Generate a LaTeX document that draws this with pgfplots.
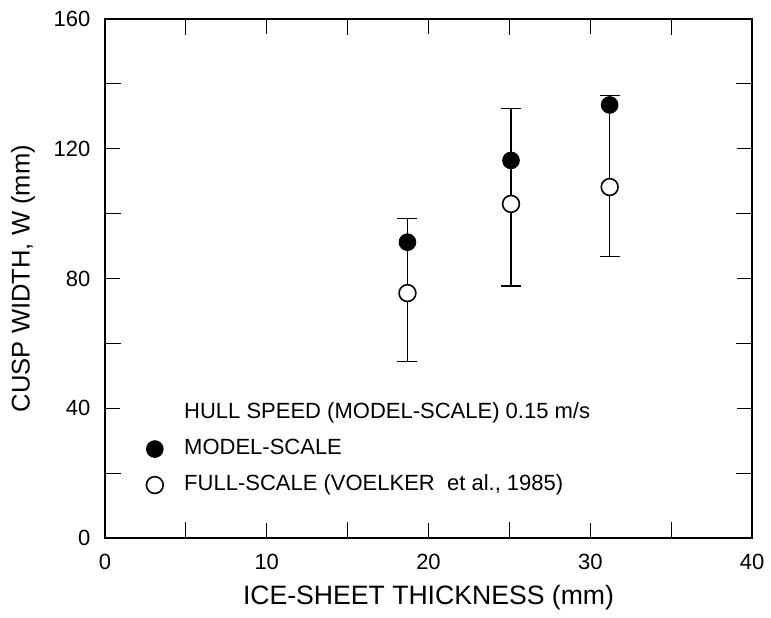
\documentclass[border=0pt]{standalone}
\usepackage{fontspec}
\setmainfont{Liberation Sans}
\usepackage{pgfplots}
\usepackage{pgfplotstable}
\pgfplotsset{compat=1.18}
\pgfplotstableread{
x y ep em
18.7 75.5 23.1 21.2
25.1 103.0 29.5 25.3
31.2 108.2 28.1 21.5
}\errtable
\pgfplotstableread{
x y
18.7 91.2
25.1 116.4
31.2 133.5
}\modeltable
\pgfplotstableread{
x y
18.7 75.5
25.1 103.0
31.2 108.2
}\fulltable
\begin{document}
\begin{tikzpicture}
\path[use as bounding box] (-52.5pt,-39.5pt) rectangle (333pt,269pt);
\begin{axis}[
  at={(0,0)}, anchor=south west,
  scale only axis, width=323.5pt, height=259.5pt,
  xmin=0, xmax=40, ymin=0, ymax=160,
  xtick={0,10,20,30,40}, minor xtick={5,15,25,35},
  ytick={0,40,80,120,160}, minor ytick={20,60,100,140},
  tick align=inside, major tick length=7.5pt, minor tick length=8pt,
  every tick/.style={black, line width=0.6pt},
  axis line style={line width=0.9pt},
  /pgf/number format/assume math mode=true,
  ticklabel style={font=\fontsize{11}{13}\selectfont},
  xticklabel style={yshift=-4.6pt},
  yticklabel style={xshift=-3.8pt},
  xlabel={ICE-SHEET THICKNESS (mm)},
  ylabel={CUSP WIDTH, W (mm)},
  xlabel style={font=\fontsize{13.3}{15}\selectfont,
    at={(axis description cs:0.5,-0.1156)}, anchor=center},
  ylabel style={font=\fontsize{12.8}{15}\selectfont,
    at={(axis description cs:-0.1267,0.5)}, anchor=center},
  legend cell align=left,
  legend style={draw=none, fill=none, inner sep=0pt,
    at={(axis cs:2.0,42.5)}, anchor=north west,
    font=\fontsize{11}{13}\selectfont,
    nodes={inner sep=1pt, text height=8pt, text depth=2.5pt},
    row sep=5.5pt, column sep=9.5pt},
]
\addplot[forget plot, only marks, mark=none, black,
  error bars/.cd, y dir=both, y explicit,
  error bar style={black, line width=0.6pt},
  error mark options={rotate=90, black, mark size=5pt, line width=0.6pt}]
  table[x=x, y=y, y error plus=ep, y error minus=em] {\errtable};
\addlegendimage{empty legend}
\addlegendentry{HULL SPEED (MODEL-SCALE) 0.15 m/s}
\addplot[only marks, mark=*, mark size=4.2pt, black] table[x=x, y=y] {\modeltable};
\addlegendentry{MODEL-SCALE}
\addplot[only marks, mark=*, mark size=4.2pt,
  mark options={fill=white, draw=black, line width=0.8pt}] table[x=x, y=y] {\fulltable};
\addlegendentry{FULL-SCALE (VOELKER\ \ et al., 1985)}
\end{axis}
\end{tikzpicture}
\end{document}
